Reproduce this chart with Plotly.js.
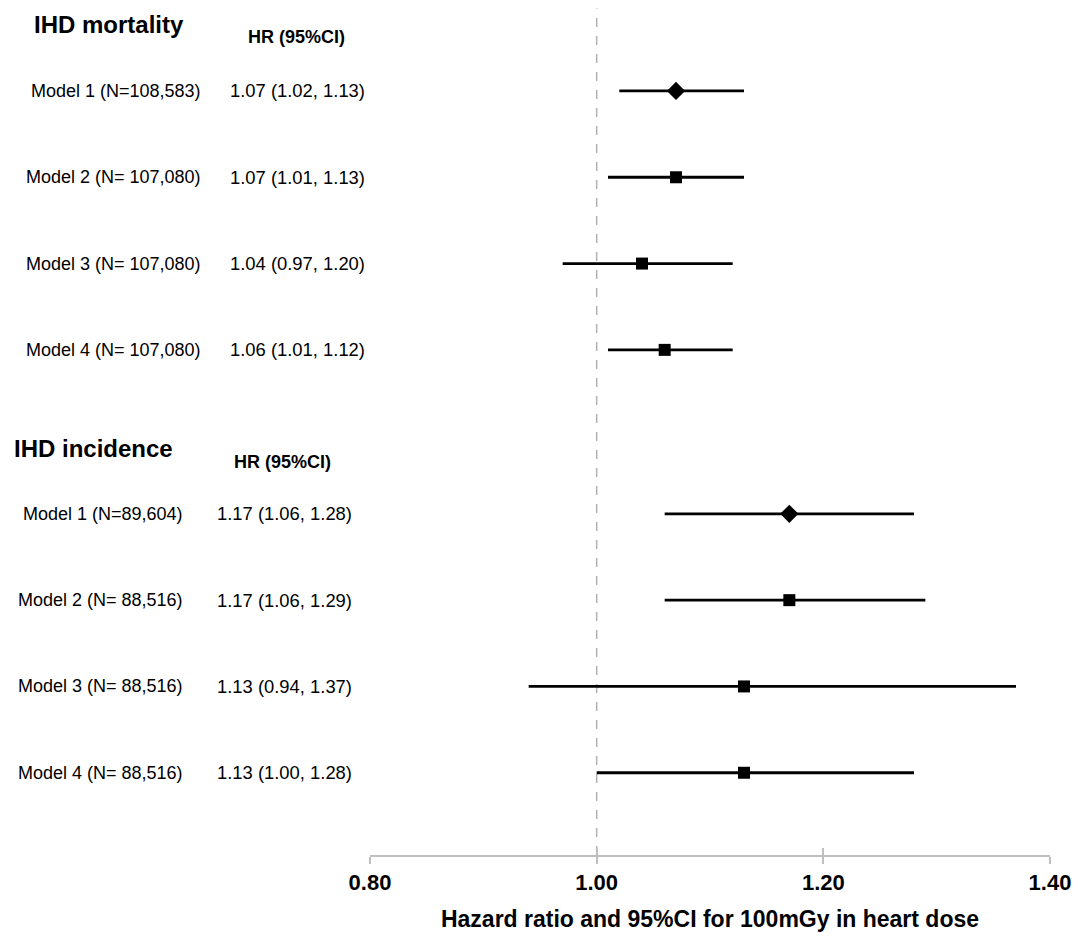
<!DOCTYPE html>
<html>
<head>
<meta charset="utf-8">
<script src="https://cdn.plot.ly/plotly-3.0.1.min.js"></script>
<style>
html,body{margin:0;padding:0;background:#fff;}
#chart{width:1080px;height:938px;}
</style>
</head>
<body>
<div id="chart"></div>
<script>
// ---- data ----
const sectionTitles = ["IHD mortality", "IHD incidence"];
const hrHeader = "HR (95%CI)";

const mortLabels = ["Model 1 (N=108,583)", "Model 2 (N= 107,080)", "Model 3 (N= 107,080)", "Model 4 (N= 107,080)"];
const mortText   = ["1.07 (1.02, 1.13)", "1.07 (1.01, 1.13)", "1.04 (0.97, 1.20)", "1.06 (1.01, 1.12)"];
const mortHR     = [1.07, 1.07, 1.04, 1.06];
const mortLower  = [1.02, 1.01, 0.97, 1.01];
const mortUpper  = [1.13, 1.13, 1.12, 1.12];

const incLabels = ["Model 1 (N=89,604)", "Model 2 (N= 88,516)", "Model 3 (N= 88,516)", "Model 4 (N= 88,516)"];
const incText   = ["1.17 (1.06, 1.28)", "1.17 (1.06, 1.29)", "1.13 (0.94, 1.37)", "1.13 (1.00, 1.28)"];
const incHR     = [1.17, 1.17, 1.13, 1.13];
const incLower  = [1.06, 1.06, 0.94, 1.00];
const incUpper  = [1.28, 1.29, 1.37, 1.28];

const xTickVals = [0.8, 1.0, 1.2, 1.4];
const xTickText = ["0.80", "1.00", "1.20", "1.40"];
const xTitle = "Hazard ratio and 95%CI for 100mGy in heart dose";

// ---- layout helpers ----
const mortRows = [0, 1, 2, 3];
const incRows  = [4.9, 5.9, 6.9, 7.9];
const symbolFor = i => (i === 0 ? "diamond" : "square");
const sizeFor = i => (i === 0 ? 14 : 12);

const FONT = "Liberation Sans, Arial, sans-serif";

function forestTrace(hr, lo, hi, rows) {
  return {
    type: "scatter", mode: "markers",
    x: hr, y: rows,
    marker: {color: "#000", opacity: 1, symbol: hr.map((_, i) => symbolFor(i)), size: hr.map((_, i) => sizeFor(i)), line: {width: 0, color: "#000"}},
    error_x: {type: "data", symmetric: false,
      array: hr.map((v, i) => hi[i] - v),
      arrayminus: hr.map((v, i) => v - lo[i]),
      color: "#000", thickness: 2.8, width: 0},
    hoverinfo: "x+y", showlegend: false, cliponaxis: false
  };
}

const traces = [
  forestTrace(mortHR, mortLower, mortUpper, mortRows),
  forestTrace(incHR, incLower, incUpper, incRows)
];

const W = 1080;
const annotations = [];
function txt(text, xpx, y, anchor, size, bold) {
  annotations.push({
    xref: "paper", yref: "y", x: xpx / W, y: y, xanchor: anchor, yanchor: "middle",
    text: bold ? "<b>" + text + "</b>" : text, showarrow: false,
    font: {family: FONT, size: size, color: "#000"}
  });
}
// section headers
txt(sectionTitles[0], 32, -0.765, "left", 24, true);
txt(hrHeader, 246, -0.63, "left", 18, true);
txt(sectionTitles[1], 12, 4.14, "left", 24, true);
txt(hrHeader, 232, 4.30, "left", 18, true);
mortRows.forEach((r, i) => {
  txt(mortLabels[i], 203, r, "right", 18, false);
  txt(mortText[i], 228, r, "left", 18.4, false);
});
incRows.forEach((r, i) => {
  txt(incLabels[i], 185, r, "right", 18, false);
  txt(incText[i], 215, r, "left", 18.4, false);
});

const layout = {
  width: 1080, height: 938,
  margin: {l: 0, r: 0, t: 0, b: 83},
  paper_bgcolor: "#fff", plot_bgcolor: "#fff",
  showlegend: false,
  xaxis: {
    domain: [370 / W, 1050 / W], range: [0.8, 1.4],
    tickvals: xTickVals, ticktext: xTickText,
    showgrid: false, zeroline: false,
    showline: true, linecolor: "#bfbfbf", linewidth: 2,
    ticks: "outside", ticklen: 7, tickwidth: 2, tickcolor: "#bfbfbf",
    tickfont: {family: FONT, size: 22, color: "#000", weight: "bold"},
    title: {text: "<b>" + xTitle + "</b>", font: {family: FONT, size: 23, color: "#000"}, standoff: 16},
    fixedrange: true
  },
  xaxis2: {
    overlaying: "x", anchor: "y", side: "bottom",
    domain: [370 / W, 1050 / W], range: [0.8, 1.4],
    tickvals: xTickVals, showticklabels: false,
    showgrid: false, zeroline: false, showline: false,
    ticks: "inside", ticklen: 7, tickwidth: 2, tickcolor: "#bfbfbf",
    fixedrange: true
  },
  yaxis: {
    range: [8.853, -1.054], visible: false, showgrid: false, zeroline: false, fixedrange: true
  },
  shapes: [{
    type: "line", xref: "x", yref: "paper", x0: 1.0, x1: 1.0, y0: 0, y1: 0.99,
    line: {color: "#b0b0b0", width: 1.5, dash: "dash"}, layer: "below"
  }],
  annotations: annotations
};

// invisible helper trace so the overlaid axis (inner tick halves) is drawn
traces.push({type: "scatter", mode: "markers", x: xTickVals, y: xTickVals.map(() => null),
  xaxis: "x2", yaxis: "y", marker: {opacity: 0}, showlegend: false, hoverinfo: "skip"});

Plotly.newPlot("chart", traces, layout, {displayModeBar: false, staticPlot: true});
</script>
</body>
</html>
